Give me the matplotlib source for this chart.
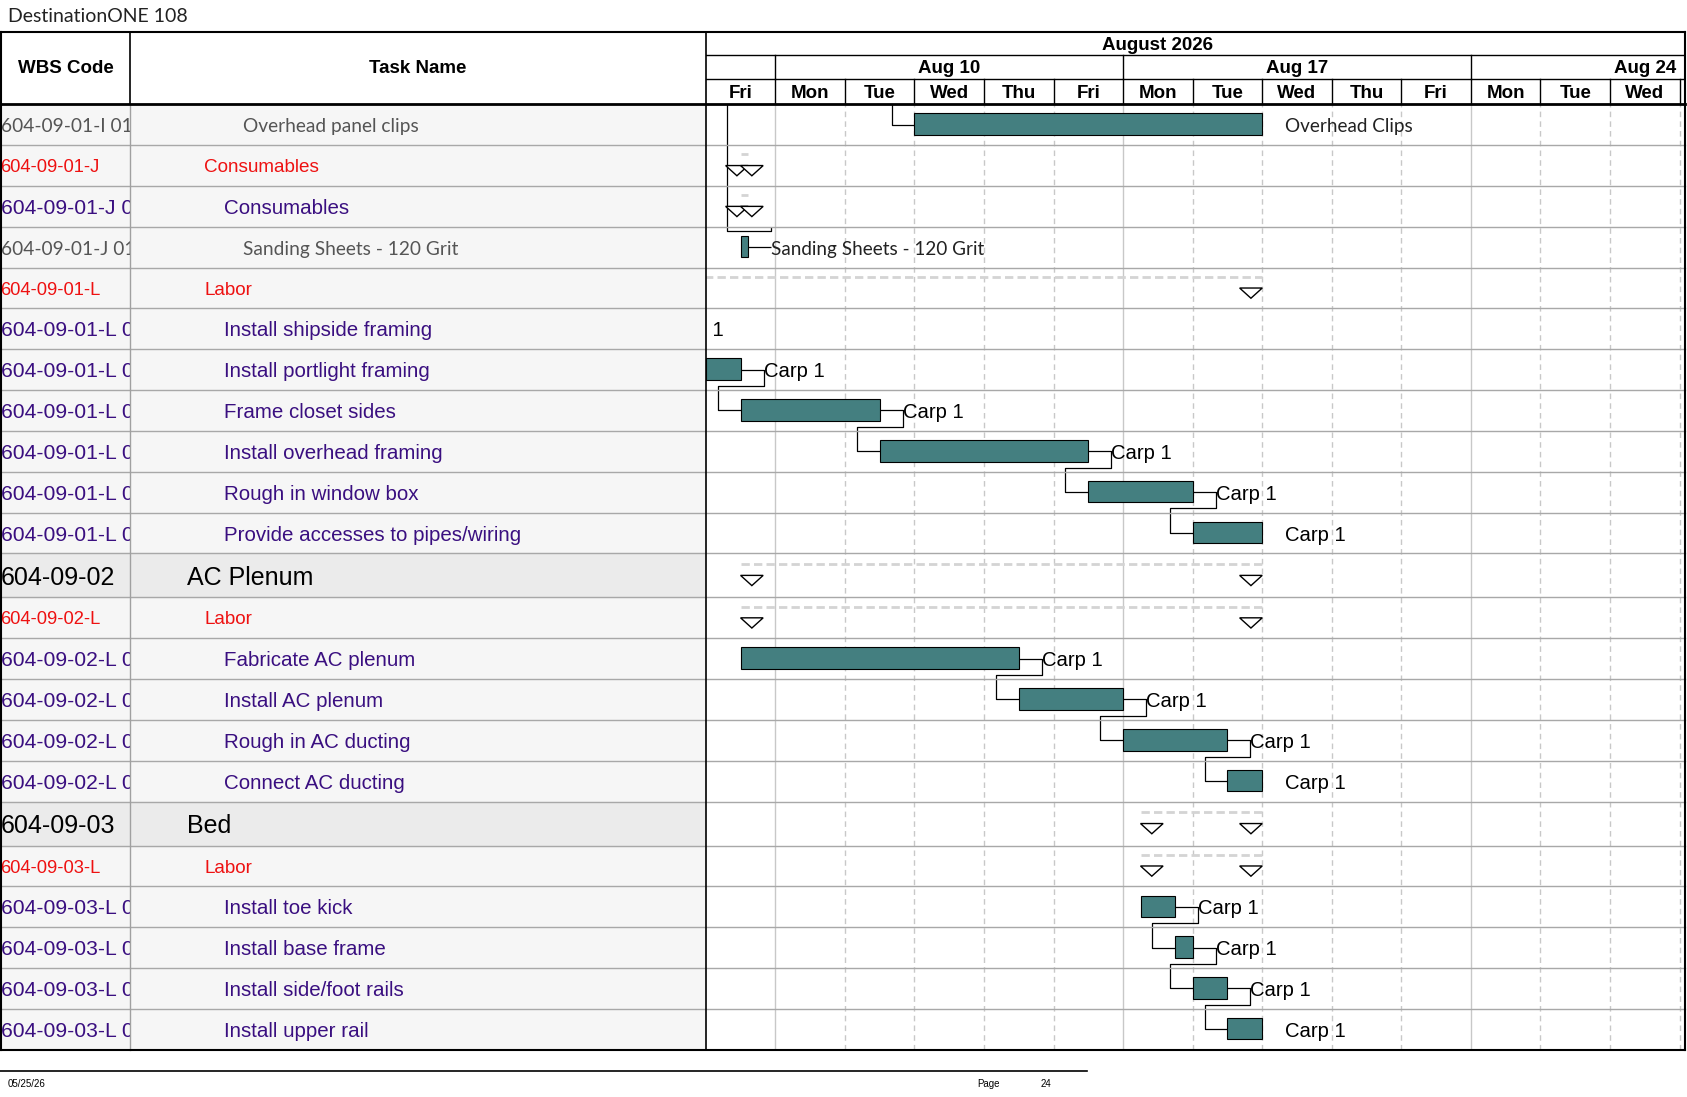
import matplotlib
matplotlib.use("Agg")
import matplotlib.pyplot as plt
from matplotlib.patches import Rectangle, Polygon
import numpy as np

plt.rcParams["font.family"] = ["Liberation Sans", "DejaVu Sans"]

# ---------------- data ----------------
wbs_codes = [
    "604-09-01-I 01-01", "604-09-01-J", "604-09-01-J 01", "604-09-01-J 01-01",
    "604-09-01-L", "604-09-01-L 01", "604-09-01-L 02", "604-09-01-L 03",
    "604-09-01-L 04", "604-09-01-L 05", "604-09-01-L 06", "604-09-02",
    "604-09-02-L", "604-09-02-L 01", "604-09-02-L 02", "604-09-02-L 03",
    "604-09-02-L 04", "604-09-03", "604-09-03-L", "604-09-03-L 01",
    "604-09-03-L 02", "604-09-03-L 03", "604-09-03-L 04",
]
task_names = [
    "Overhead panel clips", "Consumables", "Consumables", "Sanding Sheets - 120 Grit",
    "Labor", "Install shipside framing", "Install portlight framing", "Frame closet sides",
    "Install overhead framing", "Rough in window box", "Provide accesses to pipes/wiring",
    "AC Plenum", "Labor", "Fabricate AC plenum", "Install AC plenum", "Rough in AC ducting",
    "Connect AC ducting", "Bed", "Labor", "Install toe kick", "Install base frame",
    "Install side/foot rails", "Install upper rail",
]
# mat = material line, group = red cost group, task = purple task, summary = WBS summary
row_kind = [
    "mat", "group", "task", "mat", "group", "task", "task", "task", "task", "task", "task",
    "summary", "group", "task", "task", "task", "task", "summary", "group", "task", "task",
    "task", "task",
]

# working days, day 0 = Fri Aug 7 2026 (weekends hidden)
bar_rows = [0, 3, 5, 6, 7, 8, 9, 10, 13, 14, 15, 16, 19, 20, 21, 22]
bar_start = [3.0, 0.5, -2.0, 0.0, 0.5, 2.5, 5.5, 7.0, 0.5, 4.5, 6.0, 7.5, 6.25, 6.75, 7.0, 7.5]
bar_end = [8.0, 0.61, -0.95, 0.5, 2.5, 5.5, 7.0, 8.0, 4.5, 6.0, 7.5, 8.0, 6.75, 7.0, 7.5, 8.0]
bar_labels = ["Overhead Clips", "Sanding Sheets - 120 Grit"] + ["Carp 1"] * 14

summary_rows = [1, 2, 4, 11, 12, 17, 18]
summary_start = [0.5, 0.5, -2.0, 0.5, 0.5, 6.25, 6.25]
summary_end = [0.61, 0.61, 8.0, 8.0, 8.0, 8.0, 8.0]

links = [(5, 6), (6, 7), (7, 8), (8, 9), (9, 10), (13, 14), (14, 15), (15, 16),
         (19, 20), (20, 21), (21, 22)]
link_from_above = [0]          # successor rows whose predecessor sits above this page
link_to_above = [(3, 0.63)]    # (predecessor row, successor start) for a successor above

day_names = ["Fri", "Mon", "Tue", "Wed", "Thu", "Fri", "Mon", "Tue", "Wed", "Thu",
             "Fri", "Mon", "Tue", "Wed", "Thu"]
week_labels = ["Aug 3", "Aug 10", "Aug 17", "Aug 24"]
week_first_day = [-4, 1, 6, 11]
month_label = "August 2026"
month_span = (-4, 17)

# ---------------- layout (page px) ----------------
W, H = 1568.0, 1020.0
TOP, HDR, BOT = 30, 97, 976
X_TASK, X_CHART, X_RIGHT = 121, 656, 1566
DAY_PX = 64.65
DX = 0.33          # link / label offset in days
TRI_W = 21 / DAY_PX
TY = 2.0           # text baseline nudge

n_rows = len(task_names)
row_h = np.array([41.0 if k == "summary" else 38.0 for k in row_kind])
row_h *= (BOT - HDR) / row_h.sum()
row_top = np.concatenate([[0], np.cumsum(row_h)[:-1]])
row_mid = row_top + row_h / 2

kind_style = {
    "mat": dict(color="#555555", family=["Lato", "DejaVu Sans"], size=13.8, x=226, wsize=13.8),
    "group": dict(color="#ee1111", family=["Liberation Sans"], size=13.6, x=190, wsize=13.2),
    "task": dict(color="#3a0f80", family=["Liberation Sans"], size=14.8, x=208, wsize=15.2),
    "summary": dict(color="black", family=["Liberation Sans"], size=18, x=174, wsize=18),
}


def box(x0, y0, x1, y1):
    return [x0 / W, 1 - y1 / H, (x1 - x0) / W, (y1 - y0) / H]


fig = plt.figure(figsize=(16.87, 10.97), dpi=100)

# ---------------- table columns ----------------
ax_wbs = fig.add_axes(box(0, HDR, X_TASK, BOT))
ax_task = fig.add_axes(box(X_TASK, HDR, X_CHART, BOT))
for ax, x0, x1 in [(ax_wbs, 0, X_TASK), (ax_task, X_TASK, X_CHART)]:
    ax.set_xlim(x0, x1)
    ax.set_ylim(BOT - HDR, 0)
    ax.axis("off")
    ax.add_patch(Rectangle((x0, 0), x1 - x0, BOT - HDR, color="#f6f6f6", zorder=0))
    for r in range(n_rows):
        if row_kind[r] == "summary":
            ax.add_patch(Rectangle((x0, row_top[r]), x1 - x0, row_h[r], color="#ebebeb", zorder=0))

for r in range(n_rows):
    st = kind_style[row_kind[r]]
    ax_wbs.text(0.5, row_mid[r] + TY, wbs_codes[r], color=st["color"], family=st["family"],
                fontsize=st["wsize"], va="center", ha="left", clip_on=True)
    ax_task.text(st["x"], row_mid[r] + TY, task_names[r], color=st["color"], family=st["family"],
                 fontsize=st["size"], va="center", ha="left", clip_on=True)

# ---------------- gantt chart ----------------
ax_g = fig.add_axes(box(X_CHART, HDR, X_RIGHT, BOT))
ax_g.set_xlim(0, (X_RIGHT - X_CHART) / DAY_PX)
ax_g.set_ylim(BOT - HDR, 0)
ax_g.axis("off")

for d in range(1, 15):
    if d in week_first_day:
        ax_g.axvline(d, color="#c8c8c8", lw=1, zorder=0)
    else:
        ax_g.axvline(d, color="#c8c8c8", lw=1, ls=(0, (4, 3)), zorder=0)

for r, s, e in zip(summary_rows, summary_start, summary_end):
    ym = row_mid[r]
    ax_g.plot([s, e], [ym - 10.5, ym - 10.5], color="#d4d4d4", lw=2, ls=(0, (3, 1.5)), zorder=1)
    for x0 in (e - TRI_W, s):
        tri = Polygon([[x0, ym], [x0 + TRI_W, ym], [x0 + TRI_W / 2, ym + 9.5]],
                      closed=True, facecolor="white", edgecolor="black", lw=1, zorder=3)
        ax_g.add_patch(tri)

for r, s, e, lab in zip(bar_rows, bar_start, bar_end, bar_labels):
    ax_g.add_patch(Rectangle((s, row_mid[r] - 10.5), e - s, 20, facecolor="#447f80",
                             edgecolor="black", lw=0.8, zorder=3))
    carp = lab == "Carp 1"
    ax_g.text(e + DX, row_mid[r] + TY, lab, fontsize=14.6 if carp else 13.6,
              family=["Liberation Sans"] if carp else ["Lato", "DejaVu Sans"],
              color="black" if carp else "#222222",
              va="center", ha="left", clip_on=True, zorder=4)

link_kw = dict(color="black", lw=0.9, zorder=2, solid_capstyle="butt")
for p, s in links:
    e = bar_end[bar_rows.index(p)]
    st = bar_start[bar_rows.index(s)]
    ymid = row_top[p] + row_h[p] - 3.8
    ax_g.plot([e, e + DX, e + DX, st - DX, st - DX, st],
              [row_mid[p], row_mid[p], ymid, ymid, row_mid[s], row_mid[s]], **link_kw)

for s in link_from_above:
    st = bar_start[bar_rows.index(s)]
    ax_g.plot([st - DX, st - DX, st], [0, row_mid[s], row_mid[s]], **link_kw)

for p, succ_start in link_to_above:
    e = bar_end[bar_rows.index(p)]
    yh = row_top[p] + 3.5
    ax_g.plot([e, e + DX], [row_mid[p], row_mid[p]], **link_kw)
    ax_g.plot([e + DX, e + DX, succ_start - DX, succ_start - DX],
              [yh - 3.5, yh, yh, 0], **link_kw)

# ---------------- timescale ----------------
ax_h = fig.add_axes(box(X_CHART, TOP, X_RIGHT, HDR))
x_lo, x_hi = ax_g.get_xlim()
ax_h.set_xlim(x_lo, x_hi)
ax_h.set_ylim(HDR - TOP, 0)
ax_h.axis("off")
t1, t2 = 21, 43
hkw = dict(fontsize=13.5, fontweight="bold", ha="center", va="center", clip_on=True)
ax_h.text(sum(month_span) / 2, t1 / 2 + 1.5, month_label, **hkw)
for lab, d0 in zip(week_labels, week_first_day):
    if x_lo < d0 + 2.5 < x_hi:
        ax_h.text(d0 + 2.5, (t1 + t2) / 2 + 1.5, lab, **hkw)
    if d0 > 0:
        ax_h.plot([d0, d0], [t1, t2], color="black", lw=1)
for d, name in enumerate(day_names):
    if d + 0.5 < x_hi:
        ax_h.text(d + 0.5, (t2 + HDR - TOP) / 2 + 2, name, **hkw)
    if d > 0:
        ax_h.plot([d, d], [t2, HDR - TOP], color="black", lw=1)
for y in (t1, t2):
    ax_h.axhline(y, color="black", lw=1)

# ---------------- page frame, headers, footer ----------------
ax_p = fig.add_axes([0, 0, 1, 1])
ax_p.set_xlim(0, W)
ax_p.set_ylim(H, 0)
ax_p.axis("off")
ax_p.patch.set_alpha(0)

for y in HDR + row_top[1:]:
    ax_p.plot([0, X_RIGHT], [y, y], color="#a8a8a8", lw=1, zorder=1)
ax_p.plot([X_TASK, X_TASK], [HDR, BOT], color="#a0a0a0", lw=1)
ax_p.plot([X_TASK, X_TASK], [TOP, HDR], color="black", lw=1.2)
ax_p.plot([X_CHART, X_CHART], [TOP, BOT], color="black", lw=1.2)
ax_p.plot([0.8, 0.8], [TOP, BOT], color="black", lw=1.5, clip_on=False)
ax_p.plot([X_RIGHT, X_RIGHT], [TOP, BOT], color="black", lw=1.5)
ax_p.plot([0, X_RIGHT], [TOP, TOP], color="black", lw=1.5)
ax_p.plot([0, X_RIGHT], [HDR, HDR], color="black", lw=2)
ax_p.plot([0, X_RIGHT], [BOT, BOT], color="black", lw=1.5)

ax_p.text(61, 64, "WBS Code", fontsize=13.5, fontweight="bold", ha="center", va="center")
ax_p.text(388, 64, "Task Name", fontsize=13.5, fontweight="bold", ha="center", va="center")
ax_p.text(7, 15, "DestinationONE 108", fontsize=14, family=["Lato", "DejaVu Sans"],
          color="#222222", ha="left", va="center")

ax_p.plot([0, 1010], [996, 996], color="black", lw=1.2, clip_on=False)
ax_p.text(7, 1008, "05/25/26", fontsize=7, ha="left", va="center")
ax_p.text(908, 1008, "Page", fontsize=7, ha="left", va="center")
ax_p.text(967, 1008, "24", fontsize=7, ha="left", va="center")

fig.savefig("out.png", dpi=100)
